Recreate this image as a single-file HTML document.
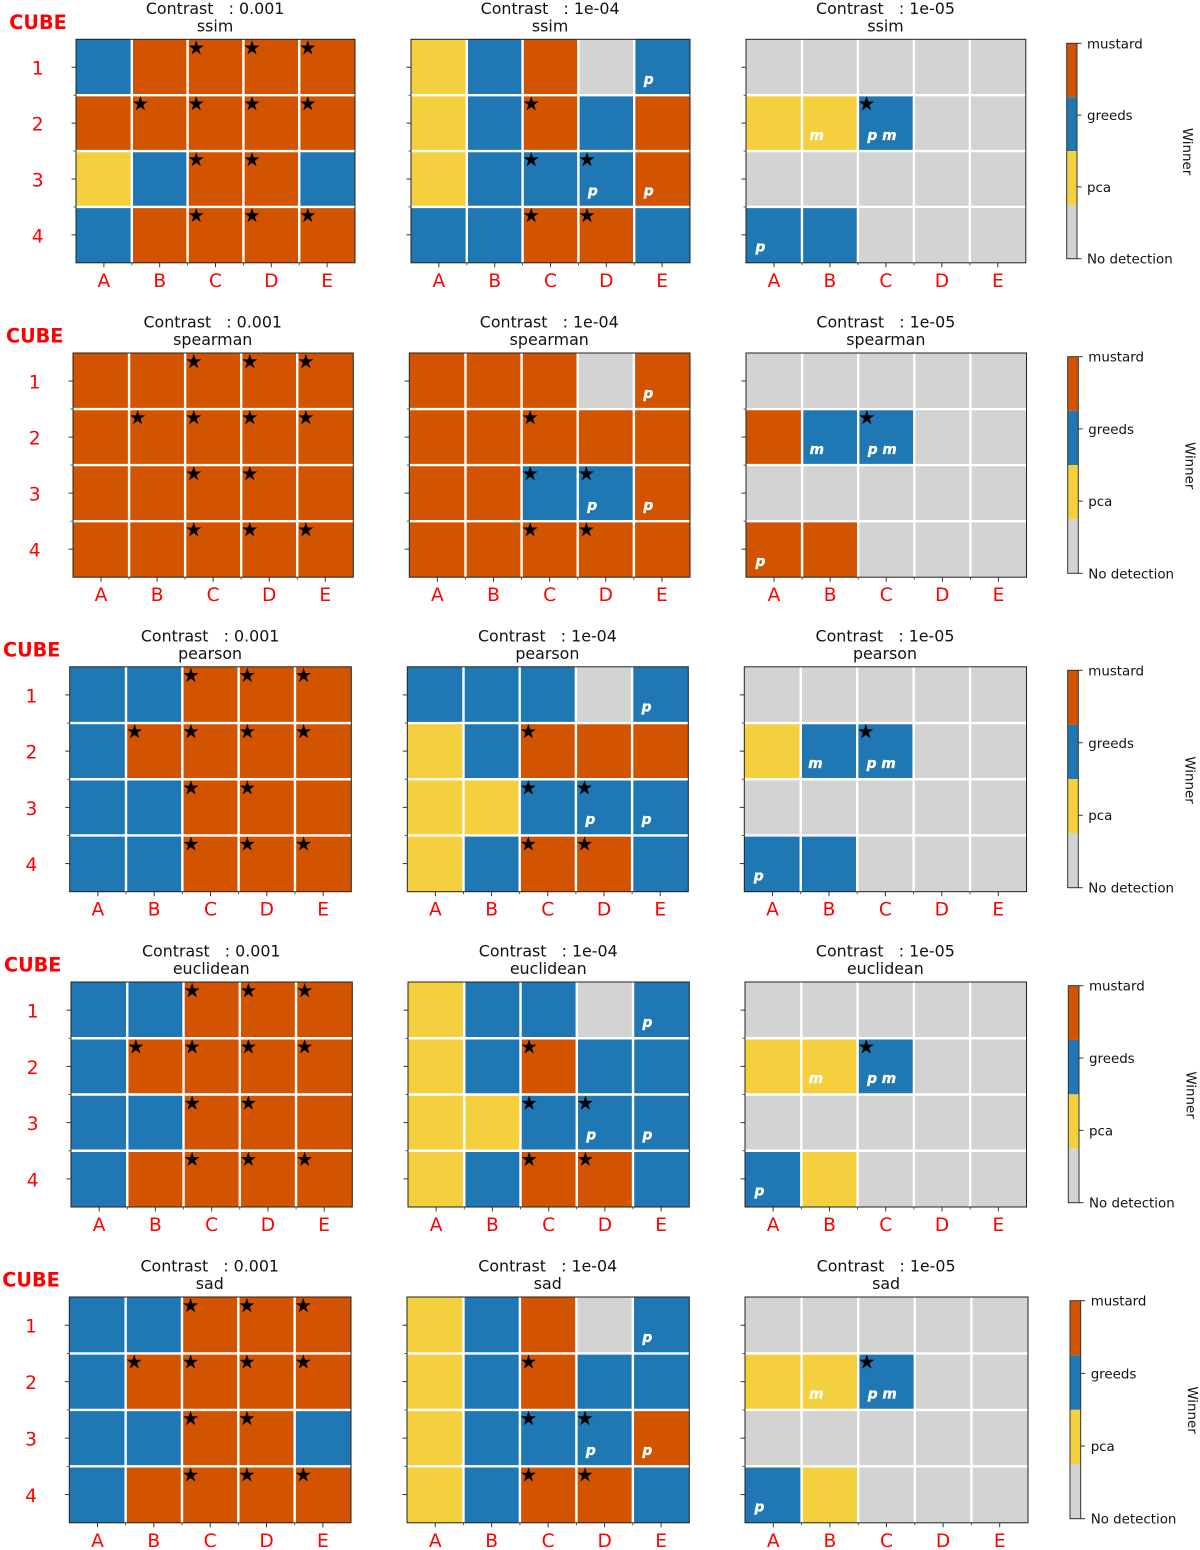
<!DOCTYPE html>
<html>
<head>
<meta charset="utf-8">
<style>
html,body{margin:0;padding:0;background:#fff;width:1200px;height:1550px;overflow:hidden}
svg{display:block;filter:blur(0.35px)}
text{font-family:"DejaVu Sans","Liberation Sans",sans-serif;white-space:pre}
</style>
</head>
<body>
<svg id="figure" xmlns="http://www.w3.org/2000/svg" width="1200" height="1550" viewBox="0 0 1200 1550"></svg>
<script>
// ---- data ----
const metrics = ['ssim', 'spearman', 'pearson', 'euclidean', 'sad'];
const contrasts = ['0.001', '1e-04', '1e-05'];
const columnLabels = ['A', 'B', 'C', 'D', 'E'];
const rowLabels = ['1', '2', '3', '4'];
const winnerLabels = ['No detection', 'pca', 'greeds', 'mustard'];
const winnerColors = ['#d3d3d3', '#f4d03f', '#1f77b4', '#d35400'];

// winners: N = no detection, P = pca, G = greeds, M = mustard
const ssimWinners = [
  ['GMMMM', 'MMMMM', 'PGMMG', 'GMMMM'],
  ['PGMNG', 'PGMGM', 'PGGGM', 'GGMMG'],
  ['NNNNN', 'PPGNN', 'NNNNN', 'GGNNN']
];
const spearmanWinners = [
  ['MMMMM', 'MMMMM', 'MMMMM', 'MMMMM'],
  ['MMMNM', 'MMMMM', 'MMGGM', 'MMMMM'],
  ['NNNNN', 'MGGNN', 'NNNNN', 'MMNNN']
];
const pearsonWinners = [
  ['GGMMM', 'GMMMM', 'GGMMM', 'GGMMM'],
  ['GGGNG', 'PGMMM', 'PPGGG', 'PGMMG'],
  ['NNNNN', 'PGGNN', 'NNNNN', 'GGNNN']
];
const euclideanWinners = [
  ['GGMMM', 'GMMMM', 'GGMMM', 'GMMMM'],
  ['PGGNG', 'PGMGG', 'PPGGG', 'PGMMG'],
  ['NNNNN', 'PPGNN', 'NNNNN', 'GPNNN']
];
const sadWinners = [
  ['GGMMM', 'GMMMM', 'GGMMG', 'GMMMM'],
  ['PGMNG', 'PGMGG', 'PGGGM', 'PGMMG'],
  ['NNNNN', 'PPGNN', 'NNNNN', 'GPNNN']
];
const winnersByMetric = [ssimWinners, spearmanWinners, pearsonWinners, euclideanWinners, sadWinners];

// star cells [row, column] for each contrast
const starCells = [
  [[0,2],[0,3],[0,4],[1,1],[1,2],[1,3],[1,4],[2,2],[2,3],[3,2],[3,3],[3,4]],
  [[1,2],[2,2],[2,3],[3,2],[3,3]],
  [[1,2]]
];
// annotated cells [row, column, text] for each contrast
const cellNotes = [
  [],
  [[0,4,'p'],[2,3,'p'],[2,4,'p']],
  [[1,1,'m'],[1,2,'p m'],[3,0,'p']]
];

// ---- layout of the composite figure ----
const rowFrames = [
  {top:39.3,  bottom:262.8,  lefts:[76,411,746],     rights:[355,690,1025.8],   cubeX:9.3, barL:1066.7, barR:1077,   barT:43.3,   barB:258.7,  winX:1186.5, winY:151.5},
  {top:353,   bottom:577.2,  lefts:[73,409.3,746],   rights:[353.3,690,1026.5], cubeX:6,   barL:1067.7, barR:1078.3, barT:356.7,  barB:573.3,  winX:1189,   winY:465.7},
  {top:666.8, bottom:891.7,  lefts:[69.7,407.3,744.3], rights:[351.3,688.3,1026.5], cubeX:3, barL:1067.7, barR:1078.3, barT:670.3, barB:887.7, winX:1189, winY:780},
  {top:982,   bottom:1207,   lefts:[71,408,745],     rights:[352.3,689.3,1026.5], cubeX:4,  barL:1068.3, barR:1079,   barT:985.7,  barB:1202.7, winX:1190,   winY:1095},
  {top:1297,  bottom:1522.8, lefts:[69.3,407,745],   rights:[351,689.3,1028],   cubeX:2.3, barL:1070,   barR:1080.7, barT:1300.7, barB:1518.7, winX:1191.5, winY:1410}
];

const svg = document.getElementById('figure');
const NS = 'http://www.w3.org/2000/svg';
const winnerCodes = 'NPGM';

function make(tag, props, parent) {
  const el = document.createElementNS(NS, tag);
  for (const k in props) el.setAttribute(k, props[k]);
  parent.appendChild(el);
  return el;
}
function starPoints(cx, cy, r) {
  const pts = [];
  for (let i = 0; i < 10; i++) {
    const rad = i % 2 === 0 ? r : r * 0.382;
    const a = -Math.PI / 2 + i * Math.PI / 5;
    pts.push((cx + rad * Math.cos(a)).toFixed(2) + ',' + (cy + rad * Math.sin(a)).toFixed(2));
  }
  return pts.join(' ');
}

function drawPanel(frame, m, c) {
  const left = frame.lefts[c], right = frame.rights[c], top = frame.top, bottom = frame.bottom;
  const xAxis = v => left + (right - left) * v / columnLabels.length;
  const yAxis = v => top + (bottom - top) * v / rowLabels.length;
  const grid = winnersByMetric[m][c];

  const g = make('g', {}, svg);
  
  

  // title
  const t1 = make('text', {x:(left+right)/2-0.4, y:top-25.5, 'text-anchor':'middle', 'font-size':15.85, fill:'#111'}, g);
  t1.textContent = 'Contrast   : ' + contrasts[c];
  
  
  const t2 = make('text', {x:(left+right)/2-0.4, y:top-8, 'text-anchor':'middle', 'font-size':15.85, fill:'#111'}, g);
  t2.textContent = metrics[m];
  
  

  // cells
  grid.forEach((rowCodes, r) => {
    rowCodes.split('').forEach((code, col) => {
      const rect = make('rect', {x:xAxis(col), y:yAxis(r), width:xAxis(col+1)-xAxis(col), height:yAxis(r+1)-yAxis(r), fill:winnerColors[winnerCodes.indexOf(code)]}, g);
      
      
    });
  });

  // white grid lines
  for (let i = 1; i < columnLabels.length; i++) {
    const line = make('line', {x1:xAxis(i), x2:xAxis(i), y1:top, y2:bottom, stroke:'#fff', 'stroke-width':2.4}, g);
    
    
  }
  for (let i = 1; i < rowLabels.length; i++) {
    const line = make('line', {x1:left, x2:right, y1:yAxis(i), y2:yAxis(i), stroke:'#fff', 'stroke-width':2.4}, g);
    
    
  }

  // frame
  const frameRect = make('rect', {x:left, y:top, width:right-left, height:bottom-top, fill:'none', stroke:'#222', 'stroke-width':1}, g);
  
  

  // x ticks and labels
  columnLabels.forEach((label, i) => {
    const tick = make('line', {x1:xAxis(i+0.5), x2:xAxis(i+0.5), y1:bottom, y2:bottom+4.5, stroke:'#333', 'stroke-width':1}, g);
    
    
    if (i > 0) {
      const minor = make('line', {x1:xAxis(i), x2:xAxis(i), y1:bottom, y2:bottom+2.5, stroke:'#333', 'stroke-width':0.8}, g);
      
      
    }
    const txt = make('text', {x:xAxis(i+0.5), y:bottom+24, 'text-anchor':'middle', 'font-size':18.6, fill:'#ff0000'}, g);
    txt.textContent = label;
    
    
  });

  // y ticks and labels
  rowLabels.forEach((label, i) => {
    const tick = make('line', {x1:left-4.5, x2:left, y1:yAxis(i+0.5), y2:yAxis(i+0.5), stroke:'#333', 'stroke-width':1}, g);
    
    
    if (i > 0) {
      const minor = make('line', {x1:left-2.5, x2:left, y1:yAxis(i), y2:yAxis(i), stroke:'#333', 'stroke-width':0.8}, g);
      
      
    }
    if (c === 0) {
      const txt = make('text', {x:left-38.3, y:yAxis(i+0.5)+7.4, 'text-anchor':'middle', 'font-size':18.6, fill:'#ff0000'}, g);
      txt.textContent = label;
      
      
    }
  });

  // stars
  starCells[c].forEach(cell => {
    const star = make('polygon', {points:starPoints(xAxis(cell[1])+8.6, yAxis(cell[0])+8.8, 7.9), fill:'#000'}, g);
    
    
  });

  // p / m notes
  cellNotes[c].forEach(note => {
    const offset = note[2] === 'm' ? 7.5 : 9.5;
    const txt = make('text', {x:xAxis(note[1])+offset, y:yAxis(note[0]+1)-11.3, 'font-size':13.8, 'font-weight':'bold', 'font-style':'italic', fill:'#fff', stroke:'#fff', 'stroke-width':0.35}, g);
    txt.textContent = note[2];
    
    
  });
}

function drawColorbar(frame, m) {
  const g = make('g', {}, svg);
  
  
  const n = winnerLabels.length;
  const barY = v => frame.barB - (frame.barB - frame.barT) * v / n;
  winnerColors.forEach((color, i) => {
    const seg = make('rect', {x:frame.barL, y:barY(i+1), width:frame.barR-frame.barL, height:barY(i)-barY(i+1), fill:color}, g);
    
    
  });
  const box = make('rect', {x:frame.barL, y:frame.barT, width:frame.barR-frame.barL, height:frame.barB-frame.barT, fill:'none', stroke:'#333', 'stroke-width':1}, g);
  
  
  const tickY = v => frame.barB - (frame.barB - frame.barT) * v / (n - 1);
  winnerLabels.forEach((label, i) => {
    const tick = make('line', {x1:frame.barR, x2:frame.barR+4.5, y1:tickY(i), y2:tickY(i), stroke:'#333', 'stroke-width':1}, g);
    
    
    const txt = make('text', {x:frame.barR+10, y:tickY(i)+5, 'font-size':13.4, fill:'#111'}, g);
    txt.textContent = label;
    
    
  });
  const title = make('text', {x:0, y:0, 'text-anchor':'middle', 'dominant-baseline':'central', 'font-size':13.4, fill:'#111', transform:'translate(' + frame.winX + ' ' + frame.winY + ') rotate(90)'}, g);
  title.textContent = 'Winner';
  
  
}

rowFrames.forEach((frame, m) => {
  const cube = make('text', {x:frame.cubeX, y:frame.top-10.3, 'font-size':19.2, 'font-weight':'bold', fill:'#ff0000'}, svg);
  cube.textContent = 'CUBE';
  
  
  contrasts.forEach((_, c) => drawPanel(frame, m, c));
  drawColorbar(frame, m);
});
</script>
</body>
</html>
